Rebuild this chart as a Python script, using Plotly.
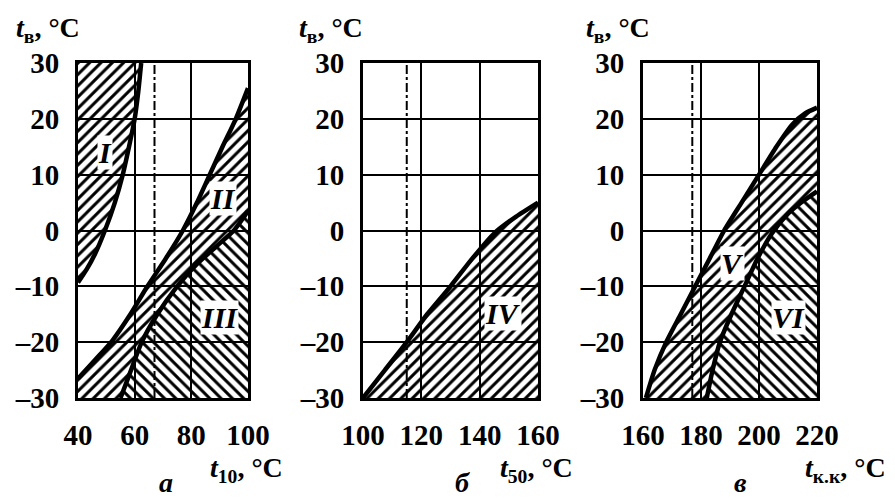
import plotly.graph_objects as go

# ---------------- data ----------------
# panel a: t10 vs tв
c1_x = [40, 43, 46, 49.5, 53, 55.8, 58, 60, 61.3, 62.3]
c1_y = [-9.3, -7, -4.2, 0, 5, 10, 15, 20, 25, 30]
c2_x = [40, 46, 52, 58.5, 64.5, 71, 77, 82, 86.5, 91, 95.7, 100]
c2_y = [-26.5, -23.2, -19.8, -15, -10, -5, 0, 5, 10, 15, 20, 25.5]
c3_x = [55, 58, 62.5, 68, 75, 82, 88.5, 95, 100]
c3_y = [-30, -26, -20, -15, -10, -6, -3, 0, 3.5]
# panel б: t50 vs tв
c4_x = [100, 107.5, 115, 122, 130, 137.5, 145, 152.5, 160]
c4_y = [-30, -25, -20, -15, -10, -5, -0.5, 2.5, 5]
# panel в: tк.к vs tв
c5_x = [161, 164, 168, 173, 178, 183, 188, 194, 200, 206, 211.5, 216, 220]
c5_y = [-30, -25, -20, -15, -10, -5, 0, 5, 10, 15, 19, 21, 22]
c6_x = [182, 184, 186.5, 190.5, 195, 199.5, 204.5, 210, 215, 220]
c6_y = [-30, -25, -20, -15, -10, -5, -0.5, 3, 5.2, 7]

ref_lines = [67, 115, 177]          # dash-dot vertical lines
x_ranges = [[40, 100], [100, 160], [160, 220]]
x_ticks = [[40, 60, 80, 100], [100, 120, 140, 160], [160, 180, 200, 220]]
y_ticks = [-30, -20, -10, 0, 10, 20, 30]
y_ticktext = ["–30", "–20", "–10", "0", "10", "20", "30"]
x_titles = ["<i>t</i><sub>10</sub>, °C", "<i>t</i><sub>50</sub>, °C", "<i>t</i><sub>к.к</sub>, °C"]
y_title = "<i>t</i><sub>в</sub>, °C"
panel_letters = ["а", "б", "в"]
region_labels = ["I", "II", "III", "IV", "V", "VI"]
region_pos = [(49.5, 14), (91, 5.7), (90, -15.5), (148, -14.8), (190.7, -5.9), (210, -15.5)]
region_axes = [1, 1, 1, 2, 3, 3]

SERIF = "Liberation Serif"
OFF = 8   # page body margin
W, H = 895 - OFF, 503 - OFF
fig = go.Figure()

def ax(n):
    return ("x" if n == 1 else f"x{n}"), ("y" if n == 1 else f"y{n}")

def hatch(n, xs, ys, shape):
    xa, ya = ax(n)
    fig.add_trace(go.Scatter(
        x=xs, y=ys, xaxis=xa, yaxis=ya, mode="none", fill="toself",
        fillcolor="rgba(0,0,0,0)",
        fillpattern=dict(shape=shape, fgcolor="black", bgcolor="rgba(0,0,0,0)",
                         size=8, solidity=0.38),
        line=dict(shape="spline", smoothing=0.6),
        hoverinfo="skip", showlegend=False))

def curve(n, xs, ys):
    xa, ya = ax(n)
    fig.add_trace(go.Scatter(x=xs, y=ys, xaxis=xa, yaxis=ya, mode="lines",
                             line=dict(color="black", width=4.5, shape="spline", smoothing=0.6),
                             showlegend=False))

# panel a regions
hatch(1, [40] + c1_x[::-1] + [40], [30] + c1_y[::-1] + [30], "/")
hatch(1, c2_x + c3_x[::-1] + [40], c2_y + c3_y[::-1] + [-30], "/")
hatch(1, c3_x + [100], c3_y + [-30], "\\")
# panel b region
hatch(2, c4_x + [160], c4_y + [-30], "/")
# panel c regions
hatch(3, c5_x + c6_x[::-1] + [160], c5_y + c6_y[::-1] + [-30], "/")
hatch(3, c6_x + [220], c6_y + [-30], "\\")

for n, xv in zip([1, 2, 3], ref_lines):
    xa, ya = ax(n)
    fig.add_trace(go.Scatter(x=[xv, xv], y=[-30, 30], xaxis=xa, yaxis=ya, mode="lines",
                             line=dict(color="black", width=2, dash="dashdot"), showlegend=False))

curve(1, c1_x, c1_y)
curve(1, c2_x, c2_y)
curve(1, c3_x, c3_y)
curve(2, c4_x, c4_y)
curve(3, c5_x, c5_y)
curve(3, c6_x, c6_y)

def px(v):
    return (v - OFF) / W

def py(v):
    return 1 - (v - OFF) / H

xdom = [[px(78), px(248)], [px(363), px(538)], [px(643), px(817)]]
ydom = [py(398), py(63)]
tickfont = dict(family=SERIF, size=29, color="black", weight="bold")
layout = dict(template="none", width=W, height=H, margin=dict(l=0, r=0, t=0, b=0, autoexpand=False),
              paper_bgcolor="white", plot_bgcolor="white", showlegend=False)
for i in range(3):
    s = "" if i == 0 else str(i + 1)
    common = dict(showgrid=True, gridcolor="black", gridwidth=2,
                  showline=True, mirror=True, linecolor="black", linewidth=3,
                  zeroline=False, ticks="", tickfont=tickfont, automargin=False,
                  fixedrange=True)
    layout["xaxis" + s] = dict(domain=xdom[i], range=x_ranges[i], tickvals=x_ticks[i],
                               anchor="y" + s, ticklabelstandoff=9, **common)
    layout["yaxis" + s] = dict(domain=ydom, range=[-30, 30], tickvals=y_ticks, ticktext=y_ticktext,
                               anchor="x" + s, ticklabelstandoff=10, **common)
fig.update_layout(**layout)

ann = []
title_font = dict(family=SERIF, size=28, color="black", weight="bold")
ytitle_x = [14, 297, 584]
xtitle_x = [246, 536, 845]
letter_x = [166, 462, 740]
for i in range(3):
    ann.append(dict(text=y_title, x=px(ytitle_x[i]), y=py(30), xref="paper", yref="paper",
                    showarrow=False, xanchor="left", yanchor="middle", font=title_font))
    ann.append(dict(text=x_titles[i], x=px(xtitle_x[i]), y=py(469), xref="paper", yref="paper",
                    showarrow=False, xanchor="center", yanchor="middle", font=title_font))
    ann.append(dict(text="<i>" + panel_letters[i] + "</i>", x=px(letter_x[i]), y=py(482),
                    xref="paper", yref="paper", showarrow=False, xanchor="center",
                    yanchor="middle", font=dict(family=SERIF, size=28, color="black", weight="bold")))
for lab, (lx, ly), n in zip(region_labels, region_pos, region_axes):
    xa, ya = ax(n)
    ann.append(dict(text="<i>" + lab + "</i>", x=lx, y=ly, xref=xa, yref=ya, showarrow=False,
                    font=dict(family=SERIF, size=30, color="black", weight="bold"),
                    bgcolor="white", borderpad=0))
fig.update_layout(annotations=ann)

fig.write_html("out.html")
